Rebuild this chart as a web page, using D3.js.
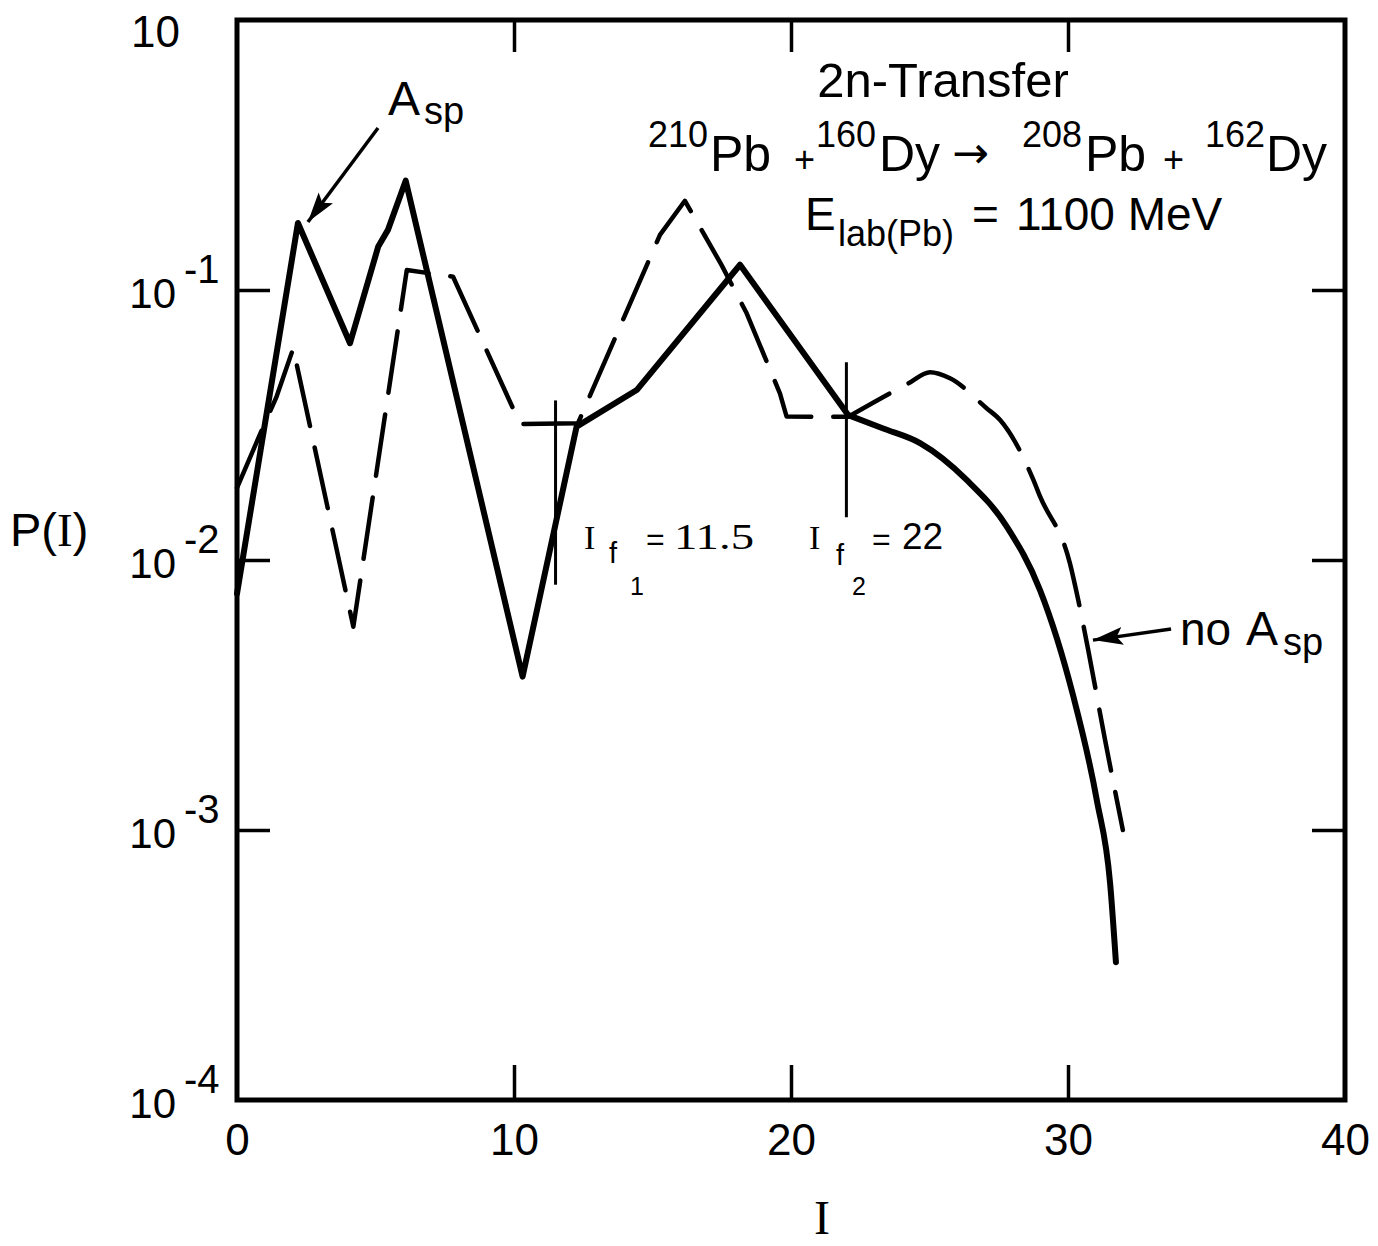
<!DOCTYPE html>
<html><head><meta charset="utf-8">
<script src="https://cdn.jsdelivr.net/npm/d3@7"></script>
<style>body{margin:0;background:#fff}</style>
</head><body>
<svg id="c" width="1378" height="1246" xmlns="http://www.w3.org/2000/svg"></svg>
<script>
// ---- data ----
// solid curve: with A_sp
const withAspI = [0, 2.2, 4.08, 5.1, 5.45, 6.09, 10.31, 12.26, 14.43, 18.16, 22.07, 23.33, 24.66, 26.34, 27.79, 28.99, 30.18, 31.04, 31.52, 31.73];
const withAspP = [7.5e-3, 0.177, 0.0635, 0.145, 0.167, 0.254, 3.7e-3, 0.0312, 0.0426, 0.124, 0.0344, 0.0307, 0.0271, 0.0198, 0.0133, 7.74e-3, 3.16e-3, 1.29e-3, 6.35e-4, 3.24e-4];
// dashed curve: no A_sp
const noAspI = [0, 0.95, 1.43, 2.03, 4.20, 6.13, 7.80, 10.22, 12.31, 15.27, 16.17, 17.49, 18.40, 19.60, 19.84, 22.06, 24.24, 25.02, 25.74, 27.06, 27.55, 28.75, 28.99, 30.07, 30.37, 30.73, 31.34, 31.98];
const noAspP = [0.0185, 0.0312, 0.0403, 0.0608, 5.66e-3, 0.1186, 0.112, 0.0319, 0.0321, 0.160, 0.214, 0.1239, 0.082, 0.0414, 0.034, 0.0339, 0.0451, 0.0496, 0.0471, 0.0365, 0.0330, 0.0198, 0.0172, 9.72e-3, 7.11e-3, 4.64e-3, 2.15e-3, 1.0e-3];
// fission-limit markers
const fissionI = [11.5, 22];
const fissionLo = [8.1e-3, 1.44e-2];
const fissionHi = [3.9e-2, 5.4e-2];
// ticks
const xTicks = [0, 10, 20, 30, 40];
const xTickLabels = ["0", "10", "20", "30", "40"];
const yTicks = [1, 1e-1, 1e-2, 1e-3, 1e-4];
const yTickBase = ["10", "10", "10", "10", "10"];
const yTickExp = ["", "-1", "-2", "-3", "-4"];
// annotation arrows (data coordinates: [I, P])
const aspArrowFrom = [5.09, 0.398], aspArrowTo = [2.56, 0.1786];
const noAspArrowFrom = [33.72, 5.55e-3], noAspArrowTo = [30.9, 5.05e-3];

// ---- drawing ----
const svg = d3.select("#c");
const X0 = 237, X1 = 1345, Y0 = 1100, Y1 = 20;
const x = d3.scaleLinear().domain([0, 40]).range([X0, X1]);
const y = d3.scaleLog().domain([1e-4, 1]).range([Y0, Y1]);
const SANS = "'Liberation Sans', Arial, Helvetica, sans-serif";
const SERIF = "'Liberation Serif', 'Times New Roman', serif";

svg.append("rect").attr("width", 1378).attr("height", 1246).attr("fill", "#fff");

// axes
const gB = svg.append("g").attr("transform", `translate(0,${Y0})`)
  .call(d3.axisBottom(x).tickValues(xTicks).tickSizeInner(-35).tickSizeOuter(0).tickPadding(24)
    .tickFormat((d, i) => xTickLabels[i]));
const gT = svg.append("g").attr("transform", `translate(0,${Y1})`)
  .call(d3.axisTop(x).tickValues([10, 20, 30]).tickSizeInner(-32).tickSizeOuter(0).tickFormat(""));
const gL = svg.append("g").attr("transform", `translate(${X0},0)`)
  .call(d3.axisLeft(y).tickValues(yTicks.slice(1, 4)).tickSizeInner(-33).tickSizeOuter(0).tickFormat(""));
const gR = svg.append("g").attr("transform", `translate(${X1},0)`)
  .call(d3.axisRight(y).tickValues(yTicks.slice(1, 4)).tickSizeInner(-33).tickSizeOuter(0).tickFormat(""));
[gB, gT, gL, gR].forEach(g => {
  g.select(".domain").remove();
  g.selectAll(".tick line").attr("stroke", "#000").attr("stroke-width", 3.5);
  g.selectAll(".tick text").attr("fill", "#000").attr("font-family", SANS).attr("font-size", 44);
});
gB.selectAll(".tick").filter(d => d === 0 || d === 40).select("line").remove();

// y tick labels with superscripts
const yl = svg.append("g").attr("font-family", SANS).attr("fill", "#000");
yTicks.forEach((v, i) => {
  const ty = y(v);
  if (yTickExp[i] === "") {
    yl.append("text").attr("x", 180).attr("y", ty + 27).attr("text-anchor", "end")
      .attr("font-size", 44).text(yTickBase[i]);
  } else {
    yl.append("text").attr("x", 176).attr("y", ty + 18).attr("text-anchor", "end")
      .attr("font-size", 42).text(yTickBase[i]);
    yl.append("text").attr("x", 184).attr("y", ty - 7).attr("font-size", 40).text(yTickExp[i]);
  }
});

// frame
svg.append("rect").attr("x", X0).attr("y", Y1).attr("width", X1 - X0).attr("height", Y0 - Y1)
  .attr("fill", "none").attr("stroke", "#000").attr("stroke-width", 5);

// curves: straight segments for the oscillating part, smooth tail beyond I = 22
const lineLin = d3.line().x(d => x(d[0])).y(d => y(d[1]));
const lineSmooth = d3.line().x(d => x(d[0])).y(d => y(d[1])).curve(d3.curveMonotoneX);
function pathD(I, P, splitAt) {
  const pts = d3.zip(I, P);
  const k = pts.findIndex(p => p[0] >= splitAt);
  const a = lineLin(pts.slice(0, k + 1));
  let b = lineSmooth(pts.slice(k));
  b = b.substring(b.search(/[CL]/));
  return a + b;
}
svg.append("path").attr("d", pathD(noAspI, noAspP, 22))
  .attr("fill", "none").attr("stroke", "#000").attr("stroke-width", 4.5)
  .attr("stroke-linecap", "round").attr("stroke-linejoin", "round")
  .attr("stroke-dasharray", "62,22");
svg.append("path").attr("d", pathD(withAspI, withAspP, 22))
  .attr("fill", "none").attr("stroke", "#000").attr("stroke-width", 6)
  .attr("stroke-linecap", "round").attr("stroke-linejoin", "round");

// fission markers
svg.append("g").selectAll("line").data(fissionI).join("line")
  .attr("x1", d => x(d)).attr("x2", d => x(d))
  .attr("y1", (d, i) => y(fissionHi[i])).attr("y2", (d, i) => y(fissionLo[i]))
  .attr("stroke", "#000").attr("stroke-width", 3);

// arrows
const defs = svg.append("defs");
defs.append("marker").attr("id", "ah").attr("markerUnits", "userSpaceOnUse")
  .attr("markerWidth", 34).attr("markerHeight", 20).attr("refX", 30).attr("refY", 9)
  .attr("orient", "auto")
  .append("path").attr("d", "M0,0 L30,9 L0,18 L6,9 Z").attr("fill", "#000");
function arrow(a, b) {
  svg.append("line").attr("x1", x(a[0])).attr("y1", y(a[1])).attr("x2", x(b[0])).attr("y2", y(b[1]))
    .attr("stroke", "#000").attr("stroke-width", 3.5).attr("marker-end", "url(#ah)");
}
arrow(aspArrowFrom, aspArrowTo);
arrow(noAspArrowFrom, noAspArrowTo);

// annotation text
const ann = svg.append("g").attr("fill", "#000").attr("font-family", SANS);
function t(xp, yp, size, str, fam, anchor) {
  return ann.append("text").attr("x", xp).attr("y", yp).attr("font-size", size)
    .attr("font-family", fam || SANS).attr("text-anchor", anchor || "start").text(str);
}
// A_sp
t(388, 115, 48, "A"); t(424, 124, 38, "sp");
// title block
t(943, 97, 49, "2n-Transfer", SANS, "middle");
t(648, 147, 36, "210"); t(710, 171, 50, "Pb"); t(794, 172, 36, "+");
t(816, 147, 36, "160"); t(879, 171, 50, "Dy");
t(952, 168, 44, "\u2192", "'DejaVu Sans', sans-serif");
t(1022, 147, 36, "208"); t(1085, 171, 50, "Pb"); t(1163, 172, 36, "+");
t(1205, 147, 36, "162"); t(1266, 171, 50, "Dy");
t(805, 230, 46, "E"); t(838, 246, 36, "lab(Pb)"); t(972, 230, 46, "=");
t(1016, 230, 46, "1100 MeV");
// fission labels
t(584, 549, 34, "I", SERIF); t(609, 563, 29, "f"); t(630, 595, 25, "1");
t(646, 550, 32, "="); t(674, 549, 35, "11.5", SERIF).attr("textLength", 80).attr("lengthAdjust", "spacingAndGlyphs");
t(809, 549, 34, "I", SERIF); t(836, 565, 29, "f"); t(852, 595, 25, "2");
t(872, 550, 32, "="); t(902, 549, 37, "22");
// no A_sp
t(1180, 645, 46, "no"); t(1246, 645, 48, "A"); t(1283, 655, 38, "sp");

// axis titles
const yt = ann.append("text").attr("x", 10).attr("y", 546).attr("font-size", 47);
yt.append("tspan").text("P(");
yt.append("tspan").attr("font-family", SERIF).text("I");
yt.append("tspan").text(")");
t(822, 1234, 48, "I", SERIF, "middle");
</script>
</body></html>
